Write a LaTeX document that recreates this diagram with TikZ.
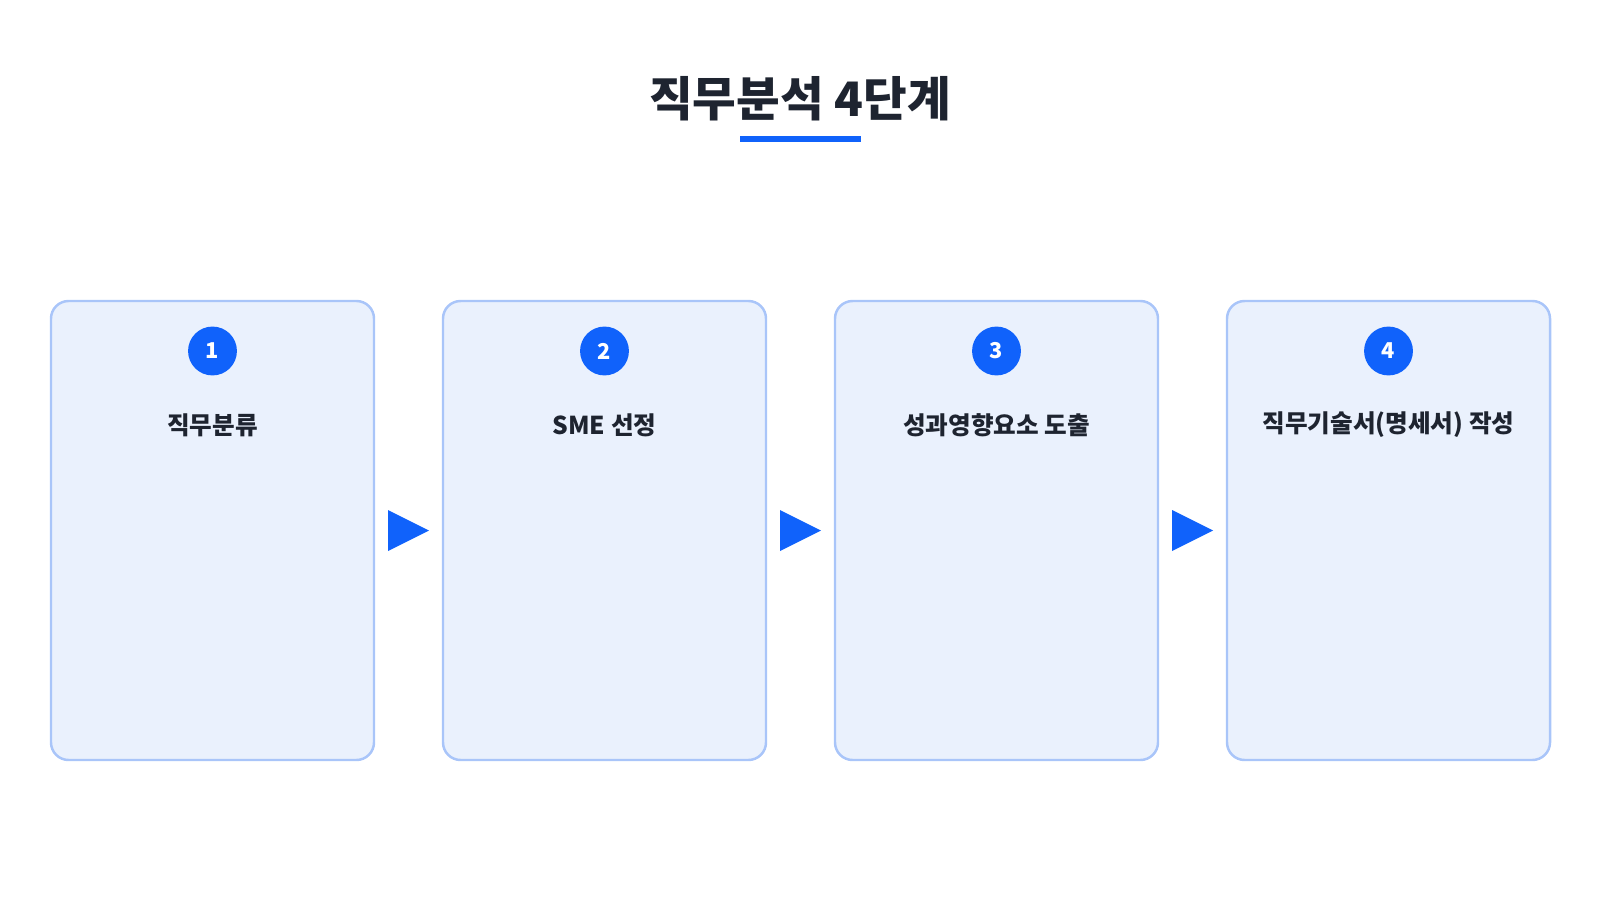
\documentclass[tikz,border=0pt]{standalone}
\usepackage{fontspec}
\setmainfont{Noto Sans CJK KR}
\begin{document}
\definecolor{blu}{HTML}{1062FB}
\definecolor{boxfill}{HTML}{EAF1FD}
\definecolor{boxline}{HTML}{A9C5F9}
\definecolor{ink}{HTML}{1E2430}
\begin{tikzpicture}[x=0.01cm,y=-0.01cm,
  card/.style={draw=boxline,fill=boxfill,line width=0.7pt,rounded corners=5pt},
  num/.style={circle,fill=blu,minimum size=13.9pt,inner sep=0pt,text=white,font=\fontsize{6.2}{7}\selectfont\bfseries},
  lbl/.style={text=ink,font=\fontsize{7}{8}\selectfont\bfseries},
  tri/.style={fill=blu}]
\useasboundingbox (0,0) rectangle (1600,900);
\node[text=ink,font=\fontsize{13.5}{15}\selectfont\bfseries] (title) at (800,99) {직무분석 4단계};
\fill[blu] (740,136) rectangle (861,142);
\foreach \i/\t in {0/직무분류,1/SME 선정,2/성과영향요소 도출,3/직무기술서(명세서) 작성}{
  \draw[card] (51+392*\i,301) rectangle (374+392*\i,760);
  \node[num] (n\i) at (212.5+392*\i,351) {\the\numexpr\i+1\relax};
  \node[lbl] (l\i) at (212.5+392*\i,425) {\t};
}
\foreach \i in {0,1,2}{
  \fill[tri] (388+392*\i,510) -- (429+392*\i,530.5) -- (388+392*\i,551) -- cycle;
}
\end{tikzpicture}
\end{document}
